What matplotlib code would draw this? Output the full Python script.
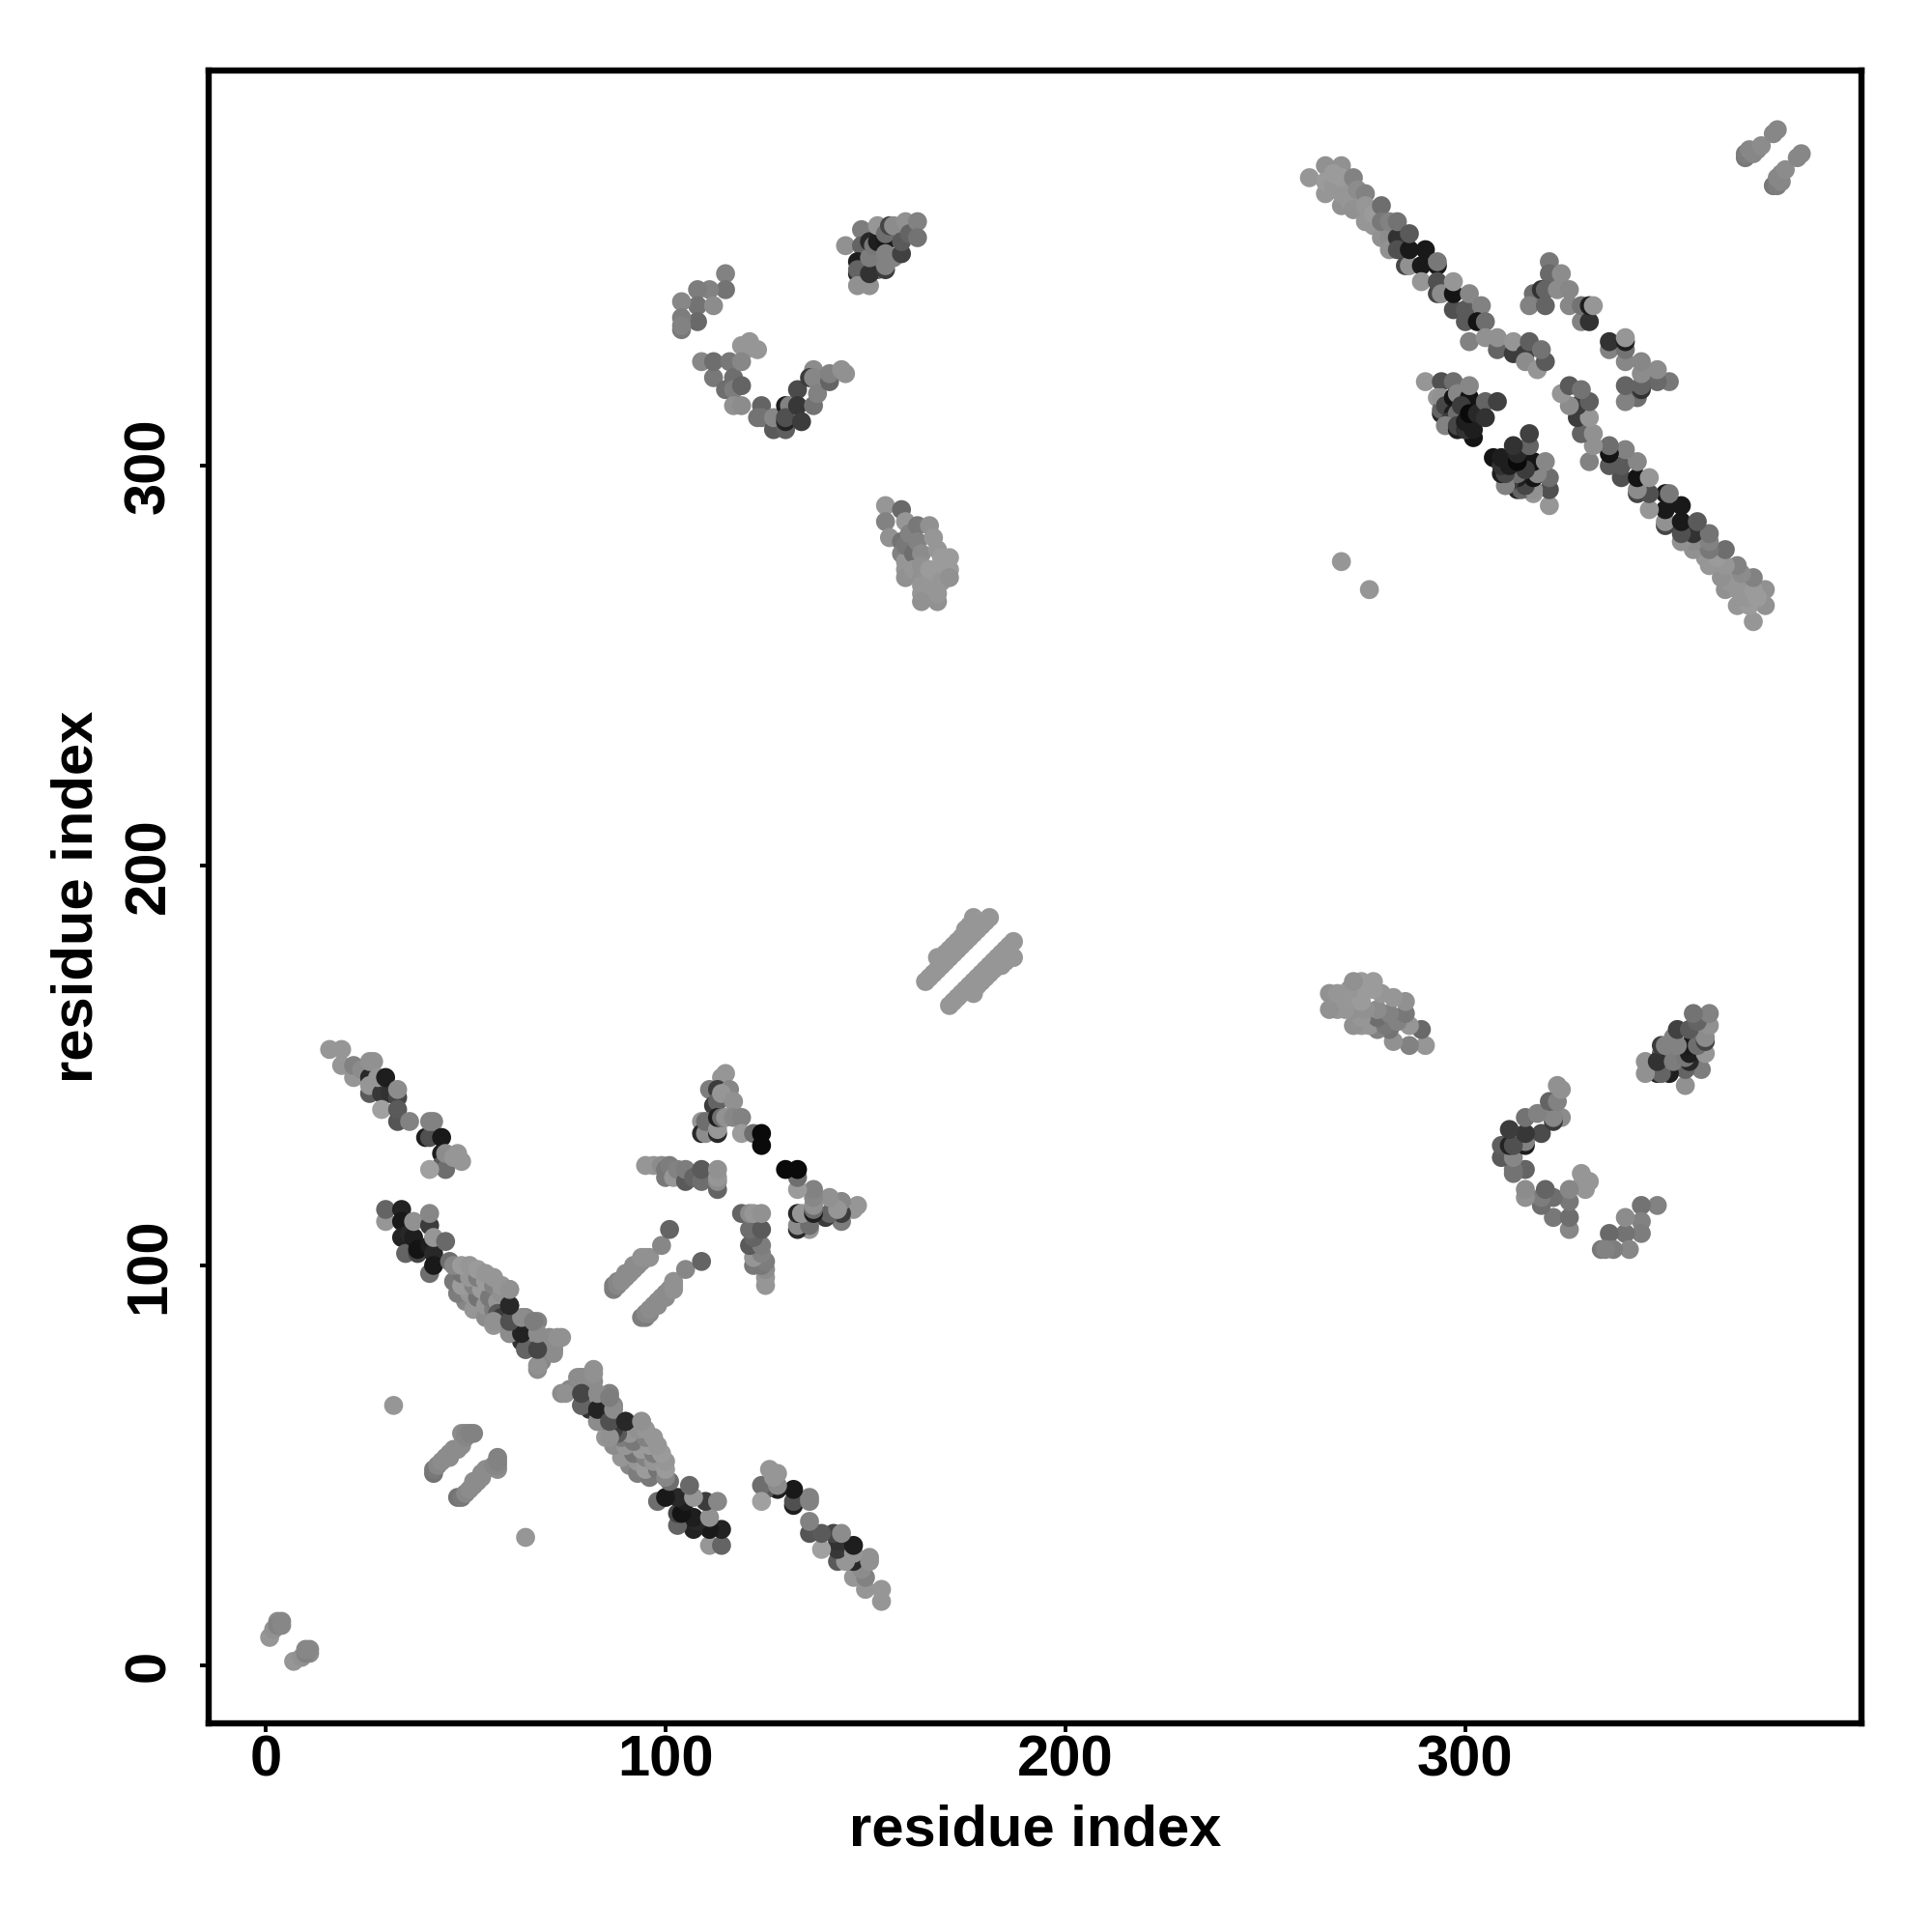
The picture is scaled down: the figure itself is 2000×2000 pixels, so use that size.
import matplotlib
matplotlib.use('Agg')
import matplotlib.pyplot as plt
import numpy as np

# contacts as (i, j, grey level), only the i < j half, the other half is the mirror image
strand_a = [
    (16, 154, 150), (19, 154, 150), (19, 150, 150), (22, 147, 150), (22, 150, 130), (24, 149, 140),
    (26, 147, 40), (26, 143, 90), (26, 145, 150), (26, 151, 145), (27, 151, 145), (29, 143, 55),
    (31, 143, 50), (28, 147, 150), (30, 147, 30), (33, 142, 70), (33, 144, 140), (29, 139, 160),
    (33, 136, 85), (33, 139, 90), (36, 136, 130), (40, 132, 30), (41, 132, 80), (41, 136, 130),
    (42, 136, 130), (44, 132, 25), (44, 128, 30), (44, 125, 90), (45, 124, 110), (41, 124, 160),
    (45, 128, 140), (47, 127, 150), (48, 128, 150), (49, 126, 150),
]
strand_b = [
    (30, 111, 150), (30, 114, 100), (34, 114, 35), (34, 111, 25), (34, 107, 35), (35, 103, 100),
    (36, 108, 40), (37, 107, 30), (38, 103, 70), (38, 104, 20), (37, 111, 145), (41, 98, 110),
    (41, 110, 60), (41, 105, 30), (42, 103, 40), (42, 100, 25), (41, 113, 135), (42, 107, 150),
    (45, 106, 105), (46, 101, 110),
    (50, 91, 135), (52, 89, 150), (55, 87, 140), (57, 85, 150),
    (48, 93, 125), (51, 93, 150), (53, 92, 115), (55, 90, 150), (57, 89, 125),
    (47, 96, 120), (49, 95, 155), (52, 95, 130), (54, 94, 155), (56, 92, 120), (58, 91, 150),
    (49, 98, 115), (51, 97, 150), (53, 97, 125), (55, 96, 155), (57, 95, 130), (59, 93, 145),
    (47, 100, 135), (49, 100, 155), (51, 100, 150), (53, 99, 155), (55, 98, 150), (57, 97, 150),
    (59, 95, 150), (61, 94, 150),
    (58, 88, 90), (59, 87, 60), (61, 90, 40),
    (61, 83, 130), (61, 85, 130), (62, 87, 80), (64, 81, 50), (64, 83, 35), (65, 87, 135), (65, 79, 130),
    (66, 84, 60), (68, 79, 70), (68, 86, 130), (68, 82, 140), (68, 74, 140), (69, 76, 135), (70, 80, 130),
    (71, 82, 140), (72, 78, 140), (72, 79, 140), (74, 82, 145),
]
strand_b2 = [
    (68, 75, 145), (72, 79, 140), (65, 79, 100), (68, 79, 70), (73, 82, 145), (61, 83, 140),
    (64, 83, 35), (68, 83, 140), (57, 86, 145), (61, 86, 80), (64, 87, 140), (67, 86, 125),
    (61, 90, 40), (61, 94, 145),
]
near_diag_c = [
    (42, 48, 115), (42, 49, 120), (43, 50, 135), (44, 51, 140), (45, 52, 140), (46, 52, 140),
    (46, 53, 140), (47, 54, 140), (48, 54, 140), (49, 55, 140), (49, 58, 140), (50, 57, 135),
    (50, 58, 135), (51, 58, 130), (52, 58, 130),
]
near_origin = [(1, 7, 150), (2, 9, 145), (3, 11, 140), (3, 10, 130), (4, 10, 135), (4, 11, 135)]
singles = [(32, 65, 150), (269, 276, 150)]

star_top = [
    (115, 148, 150), (114, 147, 150), (111, 144, 125), (113, 144, 60), (112, 140, 60), (116, 144, 135),
    (113, 141, 100), (114, 143, 150), (117, 141, 145), (109, 136, 150), (109, 133, 40), (110, 133, 140),
    (110, 136, 110), (113, 133, 40), (113, 134, 150), (113, 137, 30), (114, 137, 110), (115, 137, 145),
    (117, 137, 135), (119, 137, 130), (119, 133, 155), (122, 133, 110), (124, 130, 10), (124, 133, 10),
]
star_left = [
    (95, 125, 150), (97, 125, 150), (99, 125, 140), (100, 124, 120), (100, 122, 120), (101, 125, 125),
    (102, 122, 150), (103, 124, 130), (105, 121, 90), (105, 124, 125), (107, 122, 100), (109, 121, 110),
    (109, 124, 90), (113, 119, 100), (113, 121, 140), (113, 122, 150), (113, 124, 145),
]
parallel_d = [
    (87, 94, 125), (87, 95, 125), (88, 95, 135), (88, 96, 135), (89, 96, 140), (90, 97, 140), (90, 98, 140),
    (91, 98, 140), (92, 99, 140), (92, 100, 140), (93, 100, 140), (94, 101, 140), (94, 102, 145),
    (95, 102, 145), (96, 102, 145), (99, 105, 135), (101, 109, 100),
]

arc_g = [
    (115, 348, 130), (115, 344, 115), (111, 344, 130), (108, 344, 125), (108, 340, 115), (112, 340, 140),
    (104, 341, 135), (108, 336, 105), (104, 334, 120), (104, 337, 125), (104, 335, 130),
]
arc_h = [
    (109, 326, 135), (112, 322, 120), (112, 326, 110), (116, 326, 120), (117, 322, 110), (119, 330, 150),
    (121, 331, 150), (123, 329, 150), (120, 329, 150), (119, 326, 135), (115, 319, 110), (117, 319, 125),
    (117, 315, 145), (119, 315, 140), (119, 320, 100), (124, 315, 100), (123, 312, 115), (124, 312, 115),
    (127, 309, 90), (127, 312, 135), (130, 309, 95), (130, 315, 30), (131, 315, 130), (130, 311, 35),
    (130, 312, 80), (133, 319, 75), (133, 315, 55), (134, 311, 60), (137, 324, 140), (136, 322, 60),
    (137, 322, 135), (137, 315, 115), (138, 318, 130), (141, 321, 100), (141, 323, 130), (144, 324, 145),
    (145, 323, 145),
]
cluster_i = [
    (145, 355, 145), (149, 359, 125), (149, 355, 100), (148, 351, 30), (148, 348, 40), (148, 349, 100),
    (148, 345, 145), (151, 345, 145), (153, 349, 100), (151, 348, 50), (151, 352, 125), (151, 356, 40),
    (152, 355, 120), (153, 356, 30), (153, 360, 150), (155, 349, 60), (155, 350, 130), (155, 356, 25),
    (155, 353, 130), (155, 358, 110), (156, 360, 70), (157, 360, 140), (157, 352, 130), (159, 353, 65),
    (159, 356, 90), (160, 361, 145), (161, 358, 100), (163, 361, 130), (163, 357, 115),
]
cluster_j = [
    (155, 290, 150), (155, 286, 130), (156, 282, 145), (159, 289, 105), (160, 286, 150), (159, 281, 115),
    (159, 278, 130), (160, 276, 150), (160, 274, 150), (160, 272, 145), (160, 280, 120), (161, 283, 130),
    (162, 278, 110), (163, 285, 120), (166, 285, 145), (163, 281, 130), (162, 274, 150), (164, 278, 140),
    (164, 275, 145), (164, 272, 145), (164, 270, 150), (164, 268, 150), (164, 266, 145), (168, 266, 145),
    (168, 268, 150), (166, 270, 150), (167, 282, 150), (168, 279, 150), (166, 274, 155), (168, 273, 155),
    (169, 271, 150), (169, 277, 155), (170, 275, 155), (171, 277, 155), (171, 274, 155), (171, 272, 145),
]
parallel_k = [
    (168, 177, 150), (169, 177, 150), (170, 178, 150), (171, 179, 150), (172, 180, 150), (173, 181, 150),
    (174, 182, 150), (175, 184, 150), (176, 185, 150), (177, 187, 150),
    (165, 171, 150), (166, 172, 150), (167, 173, 150), (168, 174, 150), (169, 175, 150), (170, 176, 150),
    (171, 177, 150), (172, 178, 150), (173, 179, 150), (174, 180, 150), (175, 181, 150), (176, 182, 150),
    (177, 183, 150), (178, 184, 150), (179, 185, 150), (180, 186, 150), (181, 187, 150),
]

strand_l = [
    (261, 372, 150), (265, 375, 145), (269, 375, 145), (265, 368, 150), (265, 371, 155), (267, 370, 150),
    (267, 373, 155), (269, 365, 145), (269, 368, 150), (269, 372, 155), (271, 366, 150), (271, 368, 150),
    (272, 364, 145), (272, 372, 130), (273, 369, 140), (275, 368, 130), (275, 361, 150), (275, 365, 150),
    (277, 360, 150), (277, 363, 155), (279, 365, 110), (279, 357, 145), (279, 361, 120), (281, 357, 140),
    (281, 361, 130), (281, 354, 145), (283, 357, 50), (283, 354, 80), (283, 361, 115), (285, 350, 70),
    (286, 350, 145), (286, 354, 25), (286, 358, 90), (289, 350, 25), (290, 354, 25), (293, 350, 25),
    (293, 351, 120), (289, 346, 150), (293, 343, 70), (293, 346, 80), (294, 343, 140), (297, 339, 80),
    (297, 343, 20), (297, 346, 150), (300, 336, 90), (300, 339, 90), (301, 343, 135), (304, 340, 130),
    (303, 336, 20), (305, 336, 110), (301, 331, 130), (305, 332, 145), (308, 329, 100), (308, 332, 145),
    (312, 328, 60), (312, 331, 150), (315, 328, 60), (316, 331, 95), (315, 326, 140), (318, 324, 150),
    (320, 326, 90), (319, 329, 115),
]
cluster_m = [
    (290, 321, 150), (294, 321, 80), (297, 321, 110), (293, 317, 150), (294, 313, 40), (294, 314, 100),
    (294, 317, 145), (295, 315, 70), (297, 317, 20), (298, 318, 135), (301, 317, 20), (301, 320, 135),
    (297, 313, 30), (296, 311, 60), (298, 313, 110), (295, 310, 130), (298, 309, 30), (298, 310, 70),
    (299, 315, 60), (302, 307, 20), (300, 309, 50), (302, 309, 30), (300, 311, 30), (301, 313, 10),
    (303, 313, 40), (305, 316, 100), (305, 312, 50), (308, 316, 65),
]
cluster_n = [
    (321, 351, 120), (321, 348, 105), (324, 348, 140), (317, 343, 110), (319, 344, 50), (320, 344, 100),
    (323, 344, 140), (326, 344, 135), (316, 340, 130), (320, 340, 100), (326, 340, 135), (329, 336, 130),
    (329, 340, 115), (331, 336, 50), (331, 340, 30), (332, 340, 150),
]
parallel_p = [(370, 377, 120), (370, 378, 125), (371, 379, 135), (372, 378, 135), (373, 379, 135),
              (374, 380, 140), (377, 383, 135), (378, 384, 135)]

clusters = [strand_a, strand_b, strand_b2, near_diag_c, near_origin, singles, star_top, star_left, parallel_d,
            arc_g, arc_h, cluster_i, cluster_j, parallel_k, strand_l, cluster_m, cluster_n, parallel_p]

tick_values = [0, 100, 200, 300]
axis_label = 'residue index'

plt.rcParams['font.family'] = ['Liberation Sans', 'DejaVu Sans']
plt.rcParams['font.weight'] = 'bold'

fig = plt.figure(figsize=(10, 10), dpi=200)
ax = fig.add_axes([216 / 2000, 1 - 1784 / 2000, (1927 - 216) / 2000, (1784 - 73) / 2000])

# mirror half first, then the half as listed
for cl in clusters:
    arr = np.array(cl, dtype=float)
    ax.scatter(arr[:, 1], arr[:, 0], c=arr[:, 2], cmap='gray', vmin=0, vmax=255, s=50, linewidths=0)
    ax.scatter(arr[:, 0], arr[:, 1], c=arr[:, 2], cmap='gray', vmin=0, vmax=255, s=50, linewidths=0)

ax.set_xlim(-14.25, 399.05)
ax.set_ylim(-14.5, 398.8)

ax.set_xticks(tick_values)
ax.set_yticks(tick_values)
ax.tick_params(length=3.1, width=1.4, labelsize=21.5)
ax.tick_params(axis='x', pad=1.2)
ax.tick_params(axis='y', pad=9)
for lab in ax.get_yticklabels():
    lab.set_rotation(90)
    lab.set_va('center')
for sp in ax.spines.values():
    sp.set_linewidth(2.3)

ax.set_xlabel(axis_label, fontsize=21.5, fontweight='bold', labelpad=6)
ax.set_ylabel(axis_label, fontsize=21.5, fontweight='bold', labelpad=7)

plt.savefig('out.png', dpi=200)
